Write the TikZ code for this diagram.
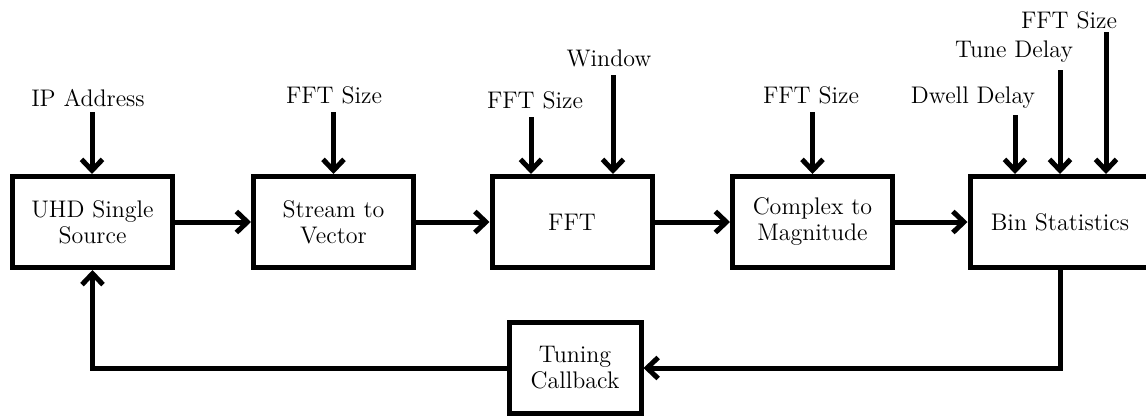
\documentclass[tikz,border=0pt]{standalone}
\usetikzlibrary{arrows.meta}
\begin{document}
\begin{tikzpicture}[x=0.5pt,y=-0.5pt,
  blk/.style={draw, line width=2.5pt, minimum width=80pt, minimum height=45.5pt,
              align=center, inner sep=1pt, font=\fontsize{12}{13}\selectfont},
  lbl/.style={font=\fontsize{12}{13}\selectfont, inner sep=0pt},
  arr/.style={line width=2.5pt, -{Straight Barb[length=5.5pt,width=10.5pt]}},
  wire/.style={line width=2.5pt}]
\useasboundingbox (0,0) rectangle (1146,418);
\clip (0,0) rectangle (1146,418);

% processing chain
\node[blk] (src) at (92.5,222) {UHD Single\\Source};
\node[blk] (s2v) at (333.5,222) {Stream to\\Vector};
\node[blk] (fft) at (572,222) {FFT};
\node[blk] (c2m) at (812.5,222) {Complex to\\Magnitude};
\node[blk, minimum width=96pt] (bin) at (1066,222) {\hspace*{-6pt}Bin Statistics};
\node[blk, minimum width=66pt] (tune) at (575,368) {Tuning\\Callback};

\draw[arr] (src) -- (s2v);
\draw[arr] (s2v) -- (fft);
\draw[arr] (fft) -- (c2m);
\draw[arr] (c2m) -- (bin);

% feedback path
\coordinate (fb) at (1060,0);
\draw[arr] (fb |- bin.south) |- (tune.east);
\draw[arr] (tune.west) -| (src.south);

% parameter inputs
\node[lbl] (ip) at (88,98) {IP Address};
\coordinate (ipT) at (92,112);
\draw[arr] (ipT) -- (ipT |- src.north);

\node[lbl] (fs1) at (334,95) {FFT Size};
\coordinate (fs1T) at (333.5,112);
\draw[arr] (fs1T) -- (fs1T |- s2v.north);

\node[lbl] (fs2) at (535,100) {FFT Size};
\coordinate (fs2T) at (531,117);
\draw[arr] (fs2T) -- (fs2T |- fft.north);

\node[lbl] (win) at (609,58) {Window};
\coordinate (winT) at (613,75);
\draw[arr] (winT) -- (winT |- fft.north);

\node[lbl] (fs3) at (811,95) {FFT Size};
\coordinate (fs3T) at (812.5,112);
\draw[arr] (fs3T) -- (fs3T |- c2m.north);

\node[lbl] (dwl) at (973,98) {Dwell Delay};
\coordinate (dwlT) at (1015,115);
\draw[arr] (dwlT) -- (dwlT |- bin.north);

\node[lbl] (tdl) at (1014,52) {Tune Delay};
\coordinate (tdlT) at (1060,70);
\draw[arr] (tdlT) -- (tdlT |- bin.north);

\node[lbl] (fs4) at (1069,20) {FFT Size};
\coordinate (fs4T) at (1106,32);
\draw[arr] (fs4T) -- (fs4T |- bin.north);
\end{tikzpicture}
\end{document}
